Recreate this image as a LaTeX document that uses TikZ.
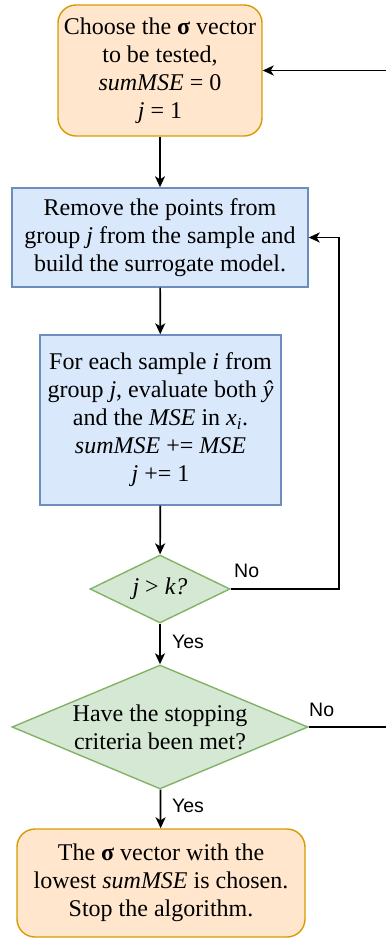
\documentclass[tikz,border=0pt]{standalone}
\usepackage{fontspec}
\setmainfont{Liberation Serif}
\setsansfont{Liberation Sans}
\usepackage{tikz}
\usetikzlibrary{arrows.meta,shapes.geometric}

\definecolor{startfill}{HTML}{FFE6CC}
\definecolor{startline}{HTML}{D79B00}
\definecolor{stepfill}{HTML}{DAE8FC}
\definecolor{stepline}{HTML}{6C8EBF}
\definecolor{testfill}{HTML}{D5E8D4}
\definecolor{testline}{HTML}{82B366}

\begin{document}
\begin{tikzpicture}[x=1pt,y=-1pt,
		txt/.style={font=\fontsize{24}{28}\selectfont,align=center,inner sep=0pt},
		endbox/.style={txt,rectangle,rounded corners=18pt,draw=startline,fill=startfill,line width=1.4pt},
		stepbox/.style={txt,rectangle,draw=stepline,fill=stepfill,line width=1.4pt},
		testbox/.style={txt,diamond,draw=testline,fill=testfill,line width=1.4pt},
		lbl/.style={font=\fontsize{19.5}{22}\sffamily,inner sep=0pt},
		flow/.style={line width=1.7pt,-{Stealth[length=11pt,width=10pt,inset=3pt]}}]
		\useasboundingbox (0,0) rectangle (386,939);
%		\draw[help lines] (0,0) grid[step=50] (386,939);
		\path (160,70.5) coordinate (choose);
		\path (160,237.5) coordinate (remove);
		\path (160.5,420) coordinate (evaluate);
		\path (160,589) coordinate (groups);
		\path (160,727) coordinate (stopping);
		\path (161,883) coordinate (chosen);
		\path (386,70.5) coordinate (fromright);
		\path (386,727) coordinate (toright);

		\path (choose) node(start) [endbox,minimum width=204,minimum height=131]
			{Choose the \textbf{σ} vector\\to be tested,\\\textit{sumMSE} = 0\\\textit{j} = 1};
		\path (remove) node(surrogate) [stepbox,minimum width=296,minimum height=99]
			{Remove the points from\\group \textit{j} from the sample and\\build the surrogate model.};
		\path (evaluate) node(mse) [stepbox,minimum width=241,minimum height=170]
			{For each sample \textit{i} from\\group \textit{j}, evaluate both \textit{ŷ}\\and the \textit{MSE} in \textit{x\textsubscript{i}}.\\\textit{sumMSE} += \textit{MSE}\\\textit{j} += 1};
		\path (groups) node(jk) [testbox,shape aspect=2.06,minimum width=140,minimum height=68]
			{\textit{j} > \textit{k?}};
		\path (stopping) node(crit) [testbox,shape aspect=2.39,minimum width=296,minimum height=124]
			{Have the stopping\\criteria been met?};
		\path (chosen) node(stop) [endbox,minimum width=288,minimum height=108]
			{The \textbf{σ} vector with the\\lowest \textit{sumMSE} is chosen.\\Stop the algorithm.};

		\draw[flow] (start) -- (surrogate);
		\draw[flow] (surrogate) -- (mse);
		\draw[flow] (mse) -- (jk);
		\path (surrogate.east) ++(30,0) coordinate (back);
		\draw[flow] (jk.east) -| (back) -- (surrogate.east);
		\path (jk.east) ++(16,-18) node(jkno) [lbl] {No};
		\draw[flow] (jk) -- (crit);
		\path (jk.south) ++(28,18) node(jkyes) [lbl] {Yes};
		\draw[line width=1.7pt] (crit.east) -- (toright);
		\path (crit.east) ++(13,-17) node(critno) [lbl] {No};
		\draw[flow] (fromright) -- (start.east);
		\draw[flow] (crit) -- (stop);
		\path (crit.south) ++(28,16) node(crityes) [lbl] {Yes};
	\end{tikzpicture}
\end{document}
